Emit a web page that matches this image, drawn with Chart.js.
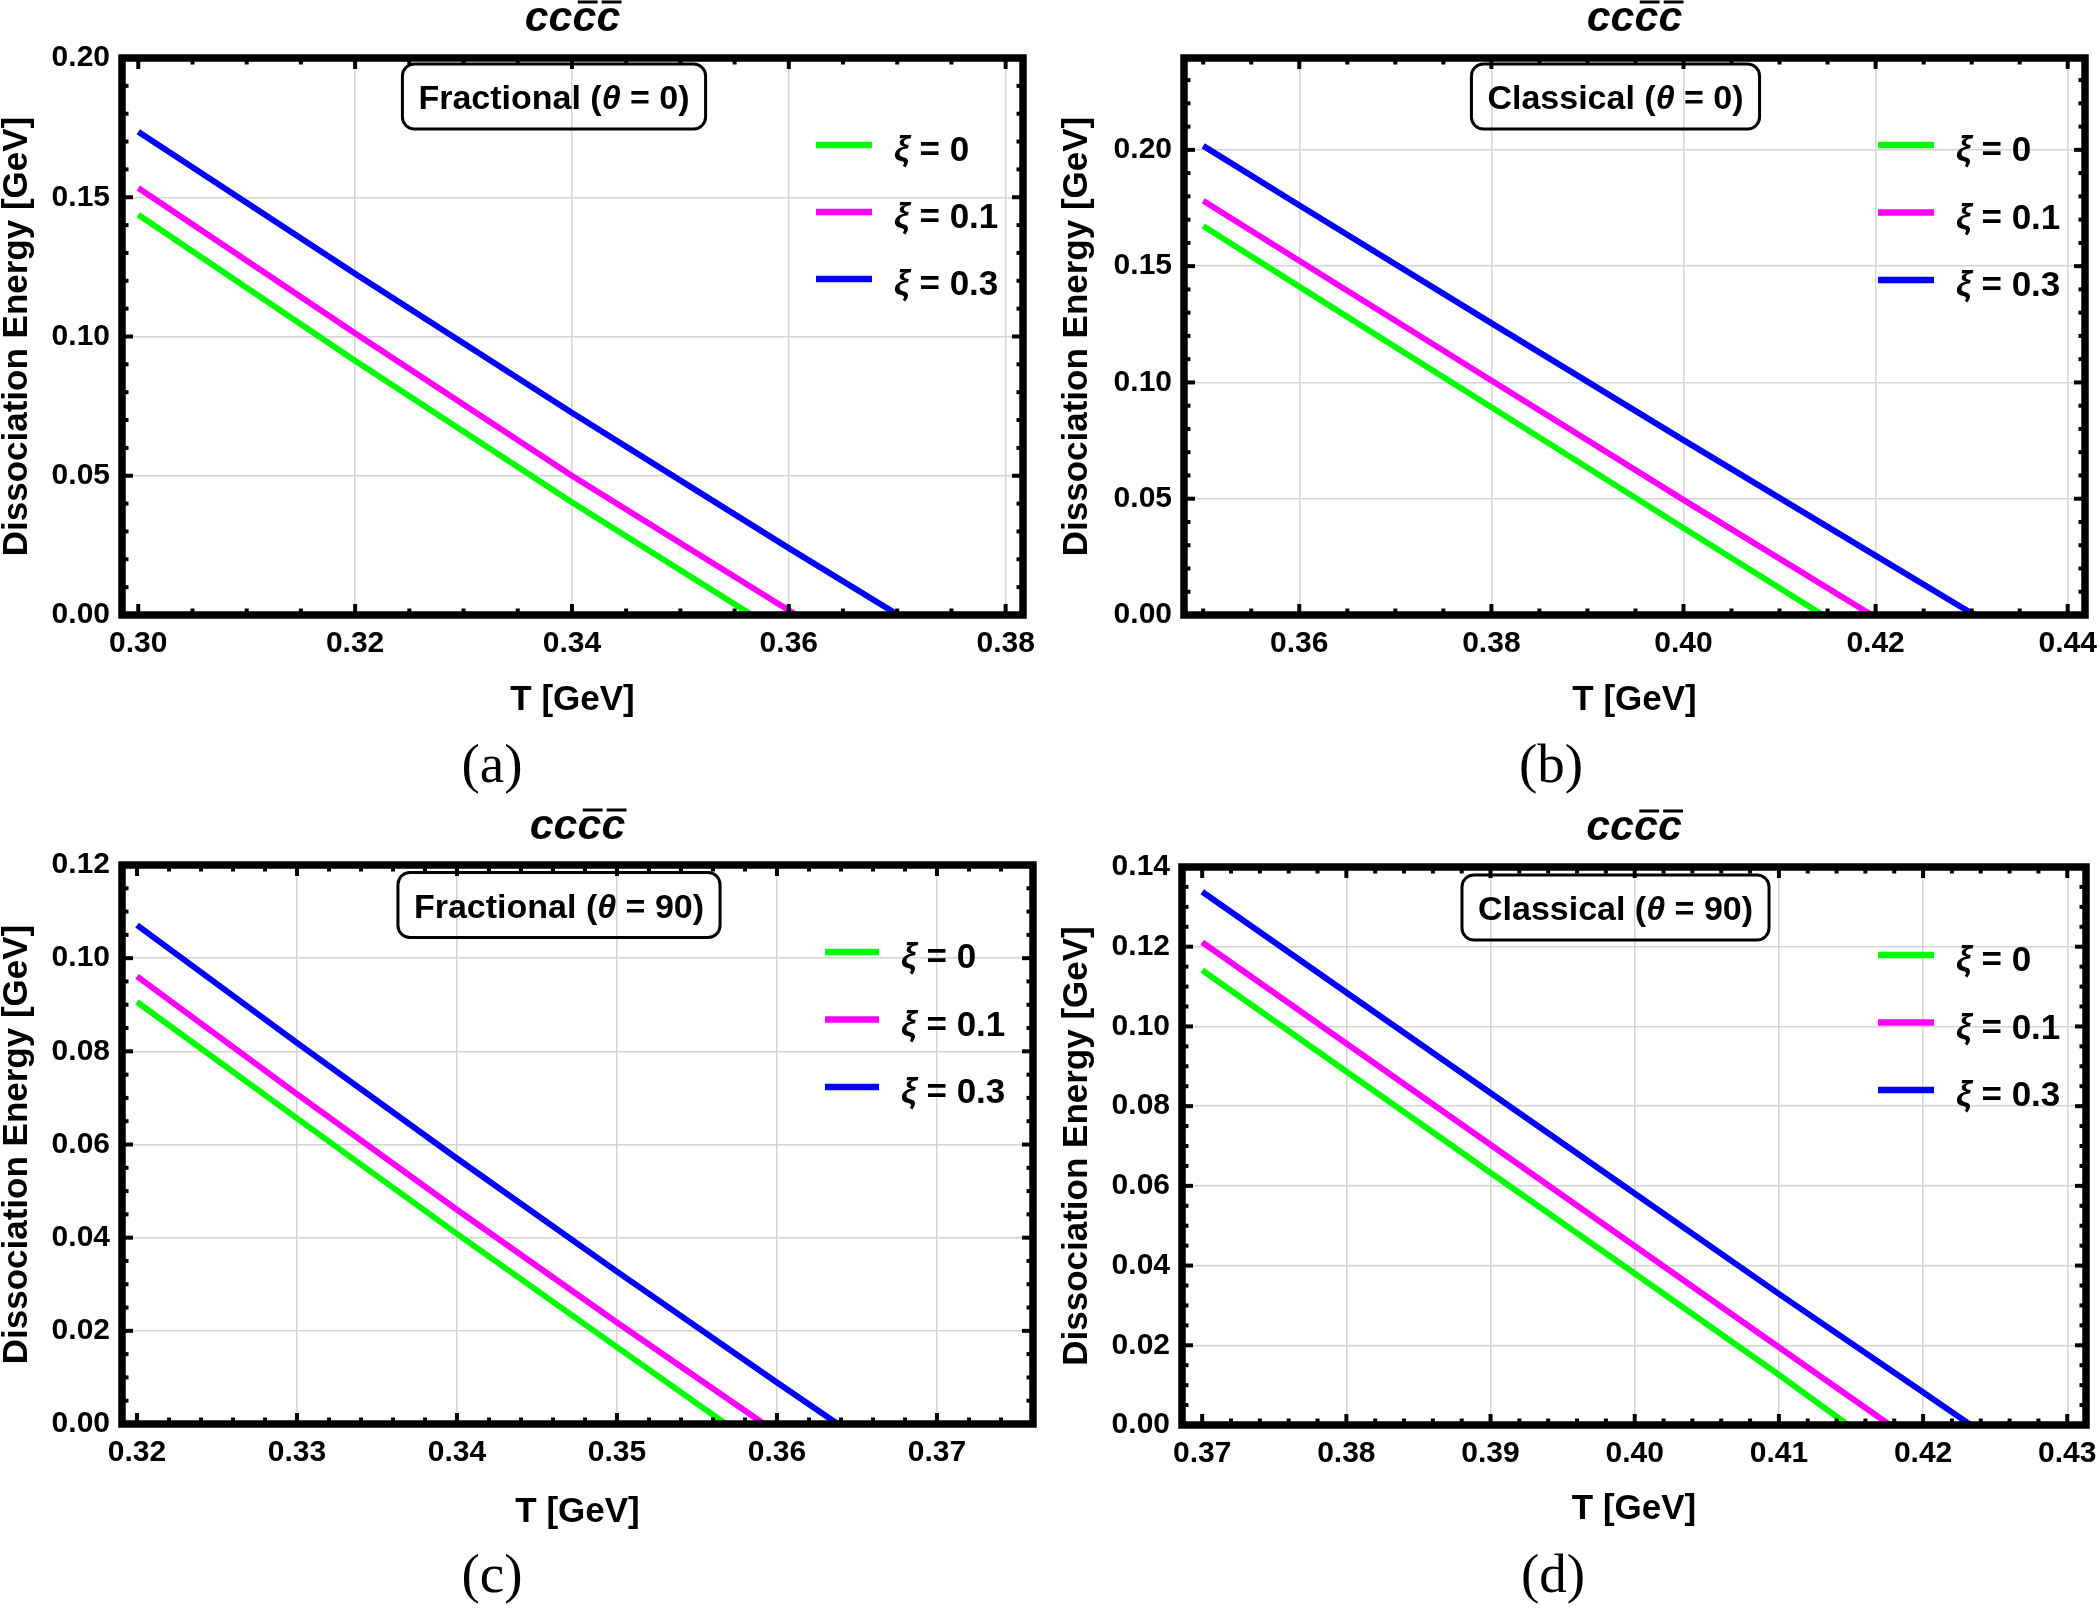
<!DOCTYPE html>
<html lang="en">
<head>
<meta charset="UTF-8">
<title>Dissociation energy vs T</title>
<script src="https://cdn.jsdelivr.net/npm/chart.js"></script>
<style>
  body { margin: 0; background: #fff; }
  #page { position: relative; width: 2099px; height: 1608px; background: #fff; }
  canvas { position: absolute; }
</style>
</head>
<body>
<div id="page">
  <canvas id="chartA" width="1050" height="800" style="left:0;top:0"></canvas>
  <canvas id="chartB" width="1049" height="800" style="left:1050px;top:0"></canvas>
  <canvas id="chartC" width="1050" height="808" style="left:0;top:800px"></canvas>
  <canvas id="chartD" width="1049" height="808" style="left:1050px;top:800px"></canvas>
</div>

<script>
// ---- values ----
const xiLabels = ["0", "0.1", "0.3"];
const lineColors = ["#00ff00", "#ff00ff", "#0000ff"];

// (a) Fractional, theta = 0
const tempA = [[0.300, 0.320, 0.340, 0.3566], [0.300, 0.320, 0.340, 0.3607], [0.300, 0.320, 0.340, 0.360, 0.3701]];
const energyA = [[0.1437, 0.0913, 0.0405, 0], [0.1533, 0.1012, 0.0500, 0], [0.1735, 0.1225, 0.0726, 0.0240, 0]];
const xTicksA = [0.30, 0.32, 0.34, 0.36, 0.38];
const yTicksA = [0, 0.05, 0.10, 0.15, 0.20];

// (b) Classical, theta = 0
const tempB = [[0.350, 0.360, 0.380, 0.400, 0.4145], [0.350, 0.360, 0.380, 0.400, 0.4196], [0.350, 0.360, 0.380, 0.400, 0.420, 0.4303]];
const energyB = [[0.1673, 0.1412, 0.0893, 0.0374, 0], [0.1781, 0.1523, 0.1008, 0.0495, 0], [0.2017, 0.1762, 0.1255, 0.0752, 0.0255, 0]];
const xTicksB = [0.36, 0.38, 0.40, 0.42, 0.44];
const yTicksB = [0, 0.05, 0.10, 0.15, 0.20];

// (c) Fractional, theta = 90
const tempC = [[0.320, 0.330, 0.340, 0.350, 0.3568], [0.320, 0.330, 0.340, 0.350, 0.3592], [0.320, 0.330, 0.340, 0.350, 0.360, 0.3638]];
const energyC = [[0.0906, 0.0656, 0.0408, 0.0165, 0], [0.0961, 0.0708, 0.0460, 0.0218, 0], [0.1071, 0.0818, 0.0570, 0.0327, 0.0089, 0]];
const xTicksC = [0.32, 0.33, 0.34, 0.35, 0.36, 0.37];
const yTicksC = [0, 0.02, 0.04, 0.06, 0.08, 0.10, 0.12];

// (d) Classical, theta = 90
const tempD = [[0.370, 0.380, 0.390, 0.400, 0.410, 0.4148], [0.370, 0.380, 0.390, 0.400, 0.410, 0.4177], [0.370, 0.380, 0.390, 0.400, 0.410, 0.420, 0.4233]];
const energyD = [[0.1141, 0.0887, 0.0633, 0.0380, 0.0126, 0], [0.1211, 0.0957, 0.0703, 0.0449, 0.0195, 0], [0.1338, 0.1085, 0.0833, 0.0581, 0.0329, 0.0082, 0]];
const xTicksD = [0.37, 0.38, 0.39, 0.40, 0.41, 0.42, 0.43];
const yTicksD = [0, 0.02, 0.04, 0.06, 0.08, 0.10, 0.12, 0.14];

const SANS = '"Liberation Sans", Arial, sans-serif';
const BOX_B = 'bold 34px ' + SANS;
const BOX_I = 'italic bold 34px ' + SANS;
const LEG_B = 'bold 35px ' + SANS;
const LEG_I = 'italic bold 35px ' + SANS;

function line(ctx, x0, y0, x1, y1) {
    ctx.beginPath();
    ctx.moveTo(x0, y0);
    ctx.lineTo(x1, y1);
    ctx.stroke();
}

// major + minor tick values over the whole axis range
function tickMarks(scale, div) {
    const vals = scale.ticks.map(t => t.value);
    const step = (vals[1] - vals[0]) / div;
    const n0 = Math.ceil((scale.min - vals[0]) / step - 1e-6);
    const n1 = Math.floor((scale.max - vals[0]) / step + 1e-6);
    const out = [];
    for (let n = n0; n <= n1; n++) out.push({ v: vals[0] + n * step, major: n % div === 0 });
    return out;
}

function runsWidth(ctx, runs) {
    let w = 0;
    runs.forEach(([t, f]) => { ctx.font = f; w += ctx.measureText(t).width; });
    return w;
}

function drawRuns(ctx, runs, x, y) {
    runs.forEach(([t, f]) => { ctx.font = f; ctx.fillText(t, x, y); x += ctx.measureText(t).width; });
}

function roundBox(ctx, x, y, w, h, r) {
    ctx.beginPath();
    ctx.moveTo(x + r, y);
    ctx.arcTo(x + w, y, x + w, y + h, r);
    ctx.arcTo(x + w, y + h, x, y + h, r);
    ctx.arcTo(x, y + h, x, y, r);
    ctx.arcTo(x, y, x + w, y, r);
    ctx.closePath();
    ctx.stroke();
}

// Mathematica-style frame, inward ticks, title, label box, legend, axis titles
const frameDecor = {
    id: 'frameDecor',
    afterDraw(chart, args, o) {
        const ctx = chart.ctx;
        const a = chart.chartArea;
        const xs = chart.scales.x;
        const ys = chart.scales.y;
        const midX = (a.left + a.right) / 2;
        const midY = (a.top + a.bottom) / 2;
        ctx.save();
        ctx.strokeStyle = '#000';
        ctx.fillStyle = '#000';

        // ticks
        ctx.lineWidth = 4;
        tickMarks(xs, o.xDiv).forEach(t => {
            const p = xs.getPixelForValue(t.v);
            const len = t.major ? 11 : 6.5;
            line(ctx, p, a.bottom, p, a.bottom - len);
            line(ctx, p, a.top, p, a.top + len);
        });
        tickMarks(ys, o.yDiv).forEach(t => {
            const p = ys.getPixelForValue(t.v);
            const len = t.major ? 11 : 6.5;
            line(ctx, a.left, p, a.left + len, p);
            line(ctx, a.right, p, a.right - len, p);
        });

        // frame
        ctx.lineWidth = 7.5;
        ctx.lineJoin = 'miter';
        ctx.strokeRect(a.left, a.top, a.right - a.left, a.bottom - a.top);

        // title: c c cbar cbar
        ctx.font = 'italic bold 43px ' + SANS;
        ctx.textAlign = 'left';
        ctx.textBaseline = 'alphabetic';
        const cw = ctx.measureText('c').width;
        const x0 = midX - 2 * cw;
        ctx.fillText('cccc', x0, o.titleBase);
        ctx.lineWidth = 3;
        [2, 3].forEach(i => {
            line(ctx, x0 + (i + 0.22) * cw, o.titleBase - 29, x0 + (i + 1.05) * cw, o.titleBase - 29);
        });

        // label box
        const runs = [[o.boxName + ' (', BOX_B], ['θ', BOX_I], [' = ' + o.theta + ')', BOX_B]];
        const tw = runsWidth(ctx, runs);
        const bw = tw + 32, bh = 65;
        ctx.lineWidth = 3;
        roundBox(ctx, o.boxX - bw / 2, o.boxY - bh / 2, bw, bh, 12);
        drawRuns(ctx, runs, o.boxX - tw / 2, o.boxY + 12.5);

        // legend
        chart.data.datasets.forEach((ds, i) => {
            const y = o.legY + i * o.legDy;
            ctx.strokeStyle = ds.borderColor;
            ctx.lineWidth = 6.5;
            line(ctx, o.legX[0], y, o.legX[1], y);
            drawRuns(ctx, [['ξ', LEG_I], [' = ' + ds.label, LEG_B]], o.legX[2], y + 16);
        });

        // axis titles
        ctx.font = 'bold 35px ' + SANS;
        ctx.textAlign = 'center';
        ctx.textBaseline = 'middle';
        ctx.fillText('T [GeV]', midX, o.xTitleY);
        ctx.save();
        ctx.translate(o.yTitleX, midY);
        ctx.rotate(-Math.PI / 2);
        ctx.fillText('Dissociation Energy [GeV]', 0, 0);
        ctx.restore();

        // sub caption
        ctx.font = '55px "Liberation Serif", "Times New Roman", serif';
        ctx.fillText(o.caption, o.capX, o.capY);
        ctx.restore();
    }
};

function makeChart(id, cfg) {
    const canvas = document.getElementById(id);
    const datasets = cfg.temps.map((ts, i) => ({
        label: xiLabels[i],
        data: ts.map((t, j) => ({ x: t, y: cfg.energies[i][j] })),
        borderColor: lineColors[i],
        borderWidth: 6,
        pointRadius: 0,
        tension: 0,
        fill: false
    }));
    const firstX = cfg.temps[0][0];
    const tickFont = { family: SANS, size: 30, weight: 'bold' };
    return new Chart(canvas, {
        type: 'line',
        data: { datasets: datasets },
        options: {
            responsive: false,
            animation: false,
            layout: { padding: { left: 0, top: cfg.area.top, right: canvas.width - cfg.area.right, bottom: 0 } },
            plugins: { legend: { display: false }, tooltip: { enabled: false }, frameDecor: cfg.decor },
            scales: {
                x: {
                    type: 'linear',
                    min: cfg.xRange[0],
                    max: cfg.xRange[1],
                    afterBuildTicks: s => { s.ticks = cfg.xTicks.map(v => ({ value: v })); },
                    afterFit: s => { s.height = canvas.height - cfg.area.bottom; s.paddingLeft = 0; s.paddingRight = 0; },
                    border: { display: false },
                    grid: {
                        drawTicks: false,
                        lineWidth: 1.5,
                        color: c => (c.tick && c.tick.value <= firstX + 1e-9) ? 'rgba(0,0,0,0)' : '#d4d4d4'
                    },
                    ticks: { callback: v => Number(v).toFixed(2), font: tickFont, color: '#000', padding: 11, maxRotation: 0, autoSkip: false }
                },
                y: {
                    type: 'linear',
                    min: cfg.yRange[0],
                    max: cfg.yRange[1],
                    afterBuildTicks: s => { s.ticks = cfg.yTicks.map(v => ({ value: v })); },
                    afterFit: s => { s.width = cfg.area.left; s.paddingTop = 0; s.paddingBottom = 0; },
                    border: { display: false },
                    grid: { drawTicks: false, lineWidth: 1.5, color: '#d4d4d4' },
                    ticks: { callback: v => Number(v).toFixed(2), font: tickFont, color: '#000', padding: 12, autoSkip: false }
                }
            }
        },
        plugins: [frameDecor]
    });
}

makeChart('chartA', {
    temps: tempA, energies: energyA, xTicks: xTicksA, yTicks: yTicksA,
    xRange: [0.2985, 0.3816], yRange: [0, 0.20],
    area: { left: 122, top: 58, right: 1023, bottom: 615 },
    decor: { xDiv: 4, yDiv: 5, titleBase: 31, boxName: 'Fractional', theta: '0', boxX: 554, boxY: 96.5,
             legX: [816, 872, 894], legY: 145, legDy: 67, xTitleY: 700, yTitleX: 17, caption: '(a)', capX: 492, capY: 768 }
});

makeChart('chartB', {
    temps: tempB, energies: energyB, xTicks: xTicksB, yTicks: yTicksB,
    xRange: [0.348, 0.4418], yRange: [0, 0.2395],
    area: { left: 134, top: 58, right: 1035, bottom: 615 },
    decor: { xDiv: 4, yDiv: 5, titleBase: 31, boxName: 'Classical', theta: '0', boxX: 565.5, boxY: 96.5,
             legX: [828, 884, 906], legY: 145, legDy: 67.5, xTitleY: 700, yTitleX: 27, caption: '(b)', capX: 501, capY: 768 }
});

makeChart('chartC', {
    temps: tempC, energies: energyC, xTicks: xTicksC, yTicks: yTicksC,
    xRange: [0.31906, 0.376], yRange: [0, 0.12],
    area: { left: 122, top: 65, right: 1033, bottom: 624 },
    decor: { xDiv: 5, yDiv: 4, titleBase: 39, boxName: 'Fractional', theta: '90', boxX: 559, boxY: 105,
             legX: [825, 879, 901], legY: 152, legDy: 67.5, xTitleY: 712, yTitleX: 17, caption: '(c)', capX: 492, capY: 778 }
});

makeChart('chartD', {
    temps: tempD, energies: energyD, xTicks: xTicksD, yTicks: yTicksD,
    xRange: [0.3686, 0.4313], yRange: [0, 0.14],
    area: { left: 132, top: 67, right: 1036, bottom: 625 },
    decor: { xDiv: 5, yDiv: 4, titleBase: 40, boxName: 'Classical', theta: '90', boxX: 565.5, boxY: 107.5,
             legX: [828, 884, 906], legY: 155, legDy: 67.5, xTitleY: 709, yTitleX: 27, caption: '(d)', capX: 503, capY: 778 }
});
</script>
</body>
</html>
